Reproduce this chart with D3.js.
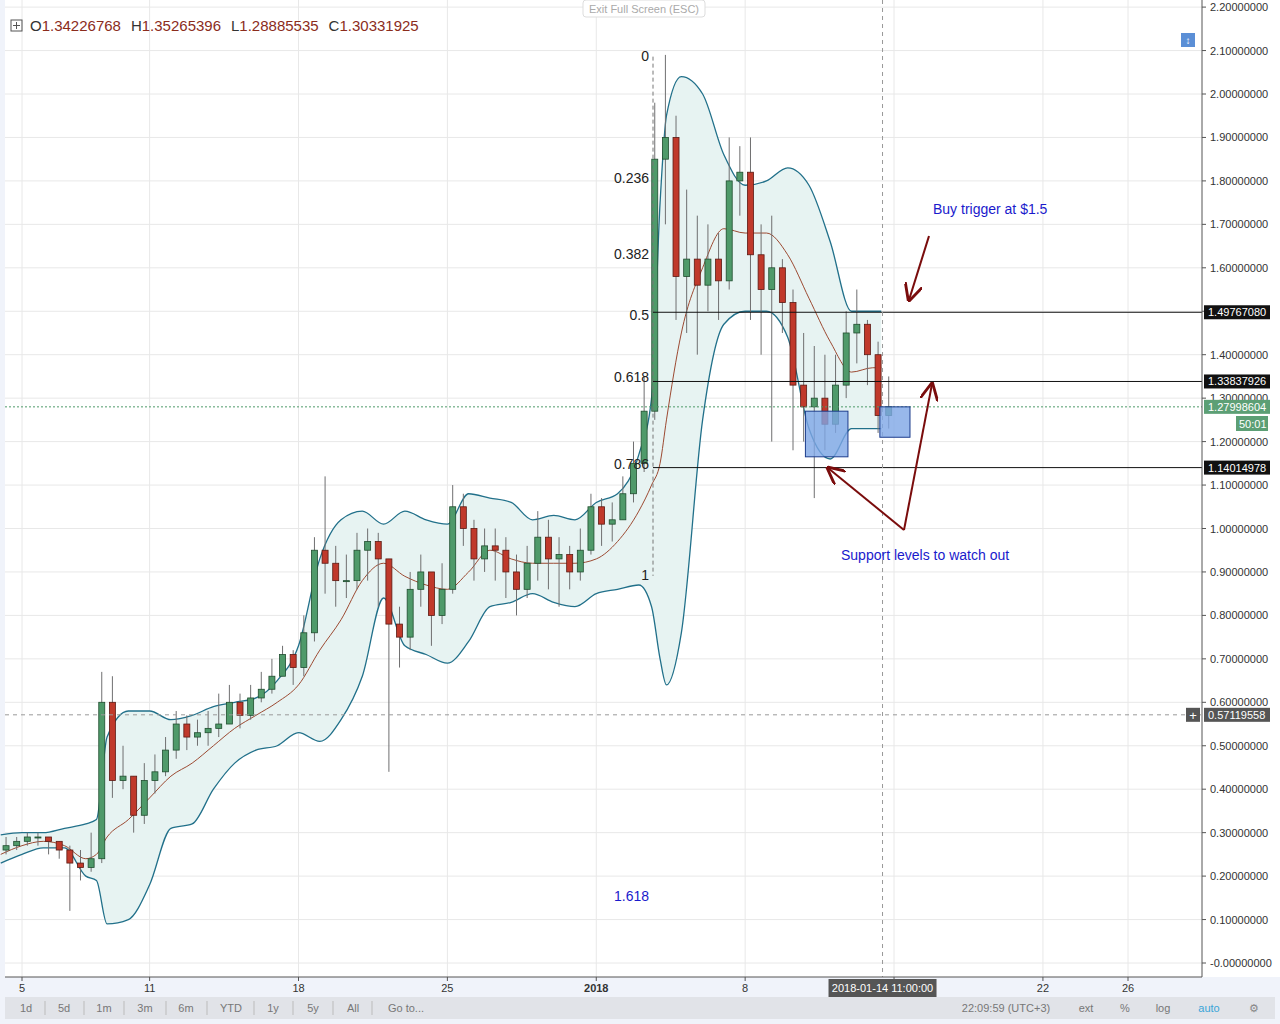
<!DOCTYPE html>
<html><head><meta charset="utf-8">
<script src="https://cdn.jsdelivr.net/npm/d3@7"></script>
<style>
body{margin:0;background:#fff;font-family:"Liberation Sans",Arial,sans-serif;}
svg text{font-family:"Liberation Sans",Arial,sans-serif;}
</style></head>
<body><svg id="chart"></svg>
<script>
// 12h candles from 2017-12-04, open = previous close
const firstOpen = 0.26;
const closes = [.27,.28,.29,.29,.28,.26,.23,.22,.24,.60,.42,.43,.34,.42,.44,.49,.55,.52,.53,.54,.55,.60,.57,.61,.63,.66,.71,.68,.76,.95,.92,.88,.88,.95,.97,.93,.78,.75,.86,.90,.80,.86,
  1.05,1.00,.93,.96,.95,.90,.86,.92,.98,.93,.94,.90,.95,1.05,1.01,1.02,1.08,1.15,1.27,1.85,1.90,1.58,1.62,1.56,1.62,1.57,1.80,1.82,1.63,1.55,1.60,1.52,1.33,1.28,1.30,1.24,1.33,1.45,1.47,1.40,1.26,1.28];
const highs = [.29,.29,.30,.30,.29,.28,.27,.26,.30,.67,.66,.50,.43,.46,.48,.52,.58,.57,.56,.58,.62,.64,.62,.64,.67,.70,.73,.72,.80,.98,1.12,.96,.94,.99,1.00,.99,.93,.82,.90,.94,.88,.92,
  1.10,1.08,1.02,1.00,1.00,.98,.94,.96,1.04,1.02,.98,.96,1.00,1.08,1.07,1.06,1.12,1.20,1.35,1.98,2.09,1.95,1.78,1.72,1.70,1.68,1.90,1.88,1.90,1.70,1.72,1.62,1.55,1.45,1.42,1.40,1.40,1.50,1.55,1.48,1.43,1.35];
const lows = [.25,.26,.27,.27,.25,.24,.12,.19,.21,.23,.38,.40,.30,.32,.39,.43,.47,.49,.50,.50,.52,.55,.54,.56,.60,.62,.66,.64,.66,.74,.85,.82,.84,.86,.88,.82,.44,.68,.72,.82,.73,.78,
  .85,.96,.88,.90,.88,.84,.80,.84,.88,.86,.82,.86,.88,.94,.96,.97,1.02,1.06,1.13,1.25,1.70,1.48,1.45,1.40,1.50,1.48,1.55,1.72,1.48,1.40,1.20,1.45,1.18,1.20,1.07,1.18,1.22,1.30,1.38,1.33,1.22,1.23];

// Bollinger band readings (days after 2017-12-04)
const bandDays = [0,1,2,3,4,4.5,5,6,7,8,9,10,11,12,13,14,15,16,17,18,19,20,21,22,23,24,25,26,27,28,29,30,30.6,31,31.3,32,33,34,35,36,37,38,39,40,41,41.4];
const upper = [.295,.30,.30,.31,.32,.33,.52,.58,.58,.56,.57,.59,.60,.61,.65,.73,.93,1.02,1.04,1.01,1.04,1.02,1.01,1.08,1.07,1.06,1.02,1.03,1.02,1.06,1.08,1.17,1.30,1.75,1.95,2.04,2.0,1.86,1.79,1.80,1.83,1.79,1.66,1.50,1.50,1.50];
const lower = [.23,.25,.265,.265,.20,.19,.09,.10,.18,.31,.32,.40,.46,.49,.50,.53,.51,.56,.66,.84,.73,.71,.69,.74,.82,.83,.85,.83,.82,.85,.86,.87,.82,.70,.64,.76,1.25,1.47,1.50,1.50,1.44,1.23,1.16,1.23,1.23,1.23];
const middle = [.25,.27,.28,.27,.24,.25,.29,.33,.38,.43,.46,.50,.54,.57,.60,.64,.72,.79,.88,.92,.89,.87,.86,.90,.95,.93,.92,.92,.92,.93,.97,1.04,1.10,1.15,1.25,1.45,1.60,1.69,1.68,1.68,1.63,1.53,1.43,1.36,1.37,1.37];

const fibLevels = [0,0.236,0.382,0.5,0.618,0.786,1,1.618];
const fibHigh = 2.086, fibLow = 0.891;
const priceLines = [1.49767080,1.33837926,1.14014978];
const lastPrice = 1.27998604, crossPrice = 0.57119558;
const tickDates = ["2017-12-05","2017-12-11","2017-12-18","2017-12-25","2018-01-01","2018-01-08","2018-01-15","2018-01-22","2018-01-26"];
const tickLabels = ["5","11","18","25","2018","8","","22","26"];
const yTicks = d3.range(0, 2.21, 0.1);

const W = 1280, H = 1024;
const svg = d3.select("#chart").attr("width", W).attr("height", H);
const base = new Date(2017, 11, 4);
const day = 864e5;
const x = d3.scaleTime().domain([new Date(2017,11,5), new Date(2018,0,26)]).range([22, 1128]);
const y = d3.scaleLinear().domain([0, 2.2]).range([963, 7.1]);
const pl = 5, pr = 1202, pb = 977;

svg.append("rect").attr("width", W).attr("height", H).attr("fill", "#f0f3fa");
svg.append("rect").attr("x", pl).attr("y", 0).attr("width", W - pl).attr("height", pb).attr("fill", "#fff");

// grid
svg.append("g").selectAll("line").data(yTicks).join("line")
  .attr("x1", pl).attr("x2", pr).attr("y1", d => y(d)).attr("y2", d => y(d)).attr("stroke", "#e8e8e8");
svg.append("g").selectAll("line").data(tickDates).join("line")
  .attr("x1", d => x(new Date(d + "T00:00"))).attr("x2", d => x(new Date(d + "T00:00")))
  .attr("y1", 0).attr("y2", pb).attr("stroke", "#e8e8e8");

// bands
const bd = bandDays.map((d, i) => ({t: new Date(+base + d * day), u: upper[i], l: lower[i], m: middle[i]}));
svg.append("path").datum(bd).attr("fill", "#e7f3f2")
  .attr("d", d3.area().curve(d3.curveMonotoneX).x(d => x(d.t)).y0(d => y(d.l)).y1(d => y(d.u)));
["u", "l"].forEach(k => svg.append("path").datum(bd).attr("fill", "none").attr("stroke", "#21708a").attr("stroke-width", 1.3)
  .attr("d", d3.line().curve(d3.curveMonotoneX).x(d => x(d.t)).y(d => y(d[k]))));
svg.append("path").datum(bd).attr("fill", "none").attr("stroke", "#9c4a32").attr("stroke-width", 1)
  .attr("d", d3.line().curve(d3.curveMonotoneX).x(d => x(d.t)).y(d => y(d.m)));

// candles
const candles = closes.map((c, i) => ({
  t: new Date(+base + i * day / 2 + day / 4),
  o: i ? closes[i - 1] : firstOpen, c, h: highs[i], l: lows[i]
}));
const cg = svg.append("g").selectAll("g").data(candles).join("g");
cg.append("line").attr("x1", d => x(d.t)).attr("x2", d => x(d.t))
  .attr("y1", d => y(d.h)).attr("y2", d => y(d.l)).attr("stroke", "#6f6f70");
cg.append("rect").attr("x", d => x(d.t) - 3).attr("width", 6)
  .attr("y", d => y(Math.max(d.o, d.c))).attr("height", d => Math.max(1, Math.abs(y(d.o) - y(d.c))))
  .attr("fill", d => d.c >= d.o ? "#4f9a6a" : "#c0392b")
  .attr("stroke", d => d.c >= d.o ? "#1f4d2e" : "#5b1a13").attr("stroke-width", 0.8);

// fib
const fibX = 653;
svg.append("line").attr("x1", fibX).attr("x2", fibX).attr("y1", y(fibHigh)).attr("y2", y(fibLow))
  .attr("stroke", "#777").attr("stroke-dasharray", "4,3");
svg.append("g").selectAll("text").data(fibLevels).join("text")
  .attr("x", fibX - 4).attr("y", d => y(fibHigh - d * (fibHigh - fibLow)) + 4)
  .attr("text-anchor", "end").attr("font-size", 14)
  .attr("fill", d => d === 1.618 ? "#1a1acc" : "#222").text(d => d);

// horizontal price lines
svg.append("g").selectAll("line").data(priceLines).join("line")
  .attr("x1", fibX).attr("x2", pr).attr("y1", d => y(d)).attr("y2", d => y(d)).attr("stroke", "#111");
svg.append("line").attr("x1", pl).attr("x2", pr).attr("y1", y(lastPrice)).attr("y2", y(lastPrice))
  .attr("stroke", "#4f9a6a").attr("stroke-dasharray", "2,2");
svg.append("line").attr("x1", pl).attr("x2", pr).attr("y1", y(crossPrice)).attr("y2", y(crossPrice))
  .attr("stroke", "#999").attr("stroke-dasharray", "4,4");
const crossT = new Date(2018, 0, 14, 11);
svg.append("line").attr("x1", x(crossT)).attr("x2", x(crossT)).attr("y1", 0).attr("y2", pb)
  .attr("stroke", "#999").attr("stroke-dasharray", "4,4");

// support boxes
const boxes = [[new Date(2018,0,10,20), new Date(2018,0,12,20), 1.27, 1.165], [new Date(2018,0,14,8), new Date(2018,0,15,18), 1.28, 1.21]];
svg.append("g").selectAll("rect").data(boxes).join("rect")
  .attr("x", d => x(d[0])).attr("width", d => x(d[1]) - x(d[0]))
  .attr("y", d => y(d[2])).attr("height", d => y(d[3]) - y(d[2]))
  .attr("fill", "#7ea6e6").attr("fill-opacity", 0.8).attr("stroke", "#1c3c8c");

// arrows
const defs = svg.append("defs");
defs.append("marker").attr("id", "ah").attr("viewBox", "0 0 10 10").attr("refX", 9).attr("refY", 5)
  .attr("markerWidth", 9).attr("markerHeight", 9).attr("orient", "auto")
  .append("path").attr("d", "M0,0 L10,5 L0,10").attr("fill", "none").attr("stroke", "#7a0c0c").attr("stroke-width", 1.6);
const arrows = [[929,236,909,300],[904,530,932,384],[904,530,828,468]];
svg.append("g").selectAll("line").data(arrows).join("line")
  .attr("x1", d => d[0]).attr("y1", d => d[1]).attr("x2", d => d[2]).attr("y2", d => d[3])
  .attr("stroke", "#7a0c0c").attr("stroke-width", 2).attr("marker-end", "url(#ah)");
svg.append("text").attr("x", 933).attr("y", 214).attr("font-size", 14).attr("fill", "#1a1acc").text("Buy trigger at $1.5");
svg.append("text").attr("x", 841).attr("y", 560).attr("font-size", 14).attr("fill", "#1a1acc").text("Support levels to watch out");

// right axis
svg.append("line").attr("x1", pr).attr("x2", pr).attr("y1", 0).attr("y2", pb).attr("stroke", "#555");
const ya = svg.append("g").selectAll("g").data(yTicks).join("g");
ya.append("line").attr("x1", pr).attr("x2", pr + 4).attr("y1", d => y(d)).attr("y2", d => y(d)).attr("stroke", "#555");
ya.append("text").attr("x", pr + 8).attr("y", d => y(d) + 4).attr("font-size", 11).attr("fill", "#333")
  .text(d => Math.abs(d) < 1e-9 ? "-0.00000000" : d.toFixed(8));
function tag(v, bg, fg) {
  const g = svg.append("g");
  g.append("rect").attr("x", pr + 2).attr("y", y(v) - 7).attr("width", 66).attr("height", 14).attr("fill", bg);
  g.append("text").attr("x", pr + 6).attr("y", y(v) + 4).attr("font-size", 11).attr("fill", fg).text(v.toFixed(8));
}
priceLines.forEach(v => tag(v, "#111", "#fff"));
tag(lastPrice, "#5c9f75", "#fff");
svg.append("rect").attr("x", 1236).attr("y", 416).attr("width", 32).attr("height", 15).attr("fill", "#5c9f75");
svg.append("text").attr("x", 1239).attr("y", 428).attr("font-size", 11).attr("fill", "#fff").text("50:01");
tag(crossPrice, "#555", "#fff");
svg.append("rect").attr("x", 1186).attr("y", y(crossPrice) - 7).attr("width", 14).attr("height", 14).attr("fill", "#555");
svg.append("text").attr("x", 1193).attr("y", y(crossPrice) + 5).attr("text-anchor", "middle").attr("font-size", 13).attr("fill", "#fff").text("+");

// bottom axis
svg.append("line").attr("x1", pl).attr("x2", pr).attr("y1", pb).attr("y2", pb).attr("stroke", "#555");
const xa = svg.append("g").selectAll("g").data(tickDates).join("g");
xa.append("line").attr("x1", d => x(new Date(d + "T00:00"))).attr("x2", d => x(new Date(d + "T00:00")))
  .attr("y1", pb).attr("y2", pb + 4).attr("stroke", "#555");
xa.append("text").attr("x", d => x(new Date(d + "T00:00"))).attr("y", 992).attr("text-anchor", "middle")
  .attr("font-size", 11).attr("fill", "#333").attr("font-weight", (d, i) => tickLabels[i] === "2018" ? "bold" : "normal")
  .text((d, i) => tickLabels[i]);
svg.append("rect").attr("x", x(crossT) - 54).attr("y", 979).attr("width", 108).attr("height", 18).attr("fill", "#555");
svg.append("text").attr("x", x(crossT)).attr("y", 992).attr("text-anchor", "middle").attr("font-size", 11).attr("fill", "#fff").text("2018-01-14 11:00:00");

// toolbar
svg.append("rect").attr("x", 5).attr("y", 997).attr("width", W - 10).attr("height", 22).attr("fill", "#e1e3e8");
const tools = [["1d",26],["5d",64],["1m",104],["3m",145],["6m",186],["YTD",231],["1y",273],["5y",313],["All",353],["Go to...",406]];
svg.append("g").selectAll("text").data(tools).join("text").attr("x", d => d[1]).attr("y", 1012)
  .attr("text-anchor", "middle").attr("font-size", 11).attr("fill", "#777").text(d => d[0]);
svg.append("g").selectAll("line").data([45, 84, 124, 166, 207, 254, 293, 333, 372]).join("line")
  .attr("x1", d => d).attr("x2", d => d).attr("y1", 1001).attr("y2", 1015).attr("stroke", "#bbb");
const rtools = [["22:09:59 (UTC+3)",1006,"#777"],["ext",1086,"#777"],["%",1125,"#777"],["log",1163,"#777"],["auto",1209,"#3aa5d8"],["⚙",1254,"#888"]];
svg.append("g").selectAll("text").data(rtools).join("text").attr("x", d => d[1]).attr("y", 1012)
  .attr("text-anchor", "middle").attr("font-size", 11).attr("fill", d => d[2]).text(d => d[0]);

// header
const hdr = svg.append("text").attr("x", 30).attr("y", 31).attr("font-size", 15);
[["O","1.34226768"],["H","1.35265396"],["L","1.28885535"],["C","1.30331925"]].forEach(([k, v], i) => {
  hdr.append("tspan").attr("fill", "#333").attr("dx", i ? 10 : 0).text(k);
  hdr.append("tspan").attr("fill", "#8b2c1c").text(v);
});
svg.append("rect").attr("x", 11).attr("y", 20).attr("width", 11).attr("height", 11).attr("fill", "none").attr("stroke", "#555");
svg.append("path").attr("d", "M13,25.5H20M16.5,22V29").attr("stroke", "#555");
svg.append("rect").attr("x", 583).attr("y", 0).attr("width", 122).attr("height", 17).attr("rx", 3).attr("fill", "#fff").attr("stroke", "#ddd");
svg.append("text").attr("x", 644).attr("y", 13).attr("text-anchor", "middle").attr("font-size", 11).attr("fill", "#aaa").text("Exit Full Screen (ESC)");
svg.append("rect").attr("x", 1181).attr("y", 33).attr("width", 14).attr("height", 14).attr("fill", "#5b8fd6");
svg.append("text").attr("x", 1188).attr("y", 44).attr("text-anchor", "middle").attr("font-size", 10).attr("fill", "#fff").text("↕");
</script></body></html>
